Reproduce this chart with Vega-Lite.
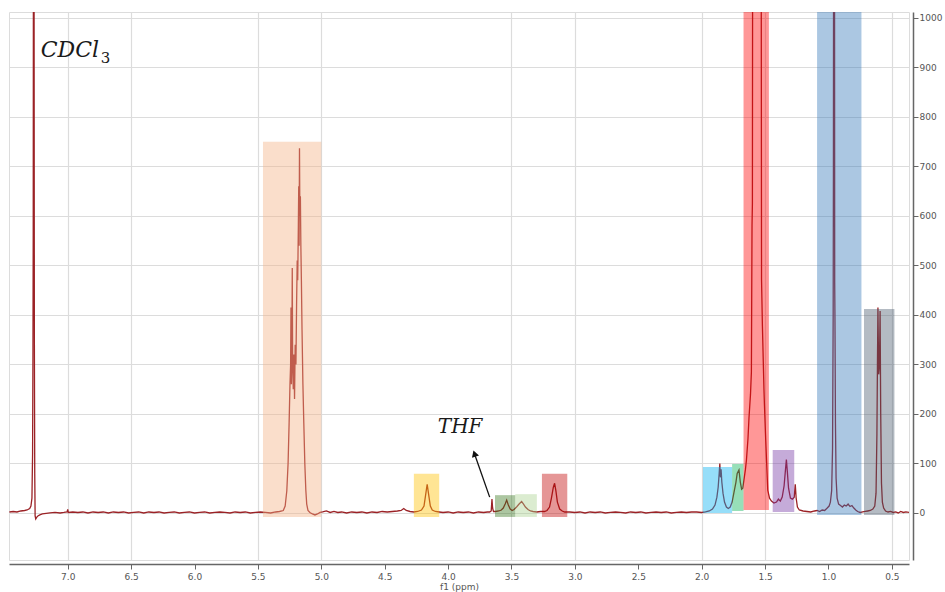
{
  "$schema": "https://vega.github.io/schema/vega-lite/v6.json",
  "width": 900,
  "height": 548,
  "autosize": {"type": "none"},
  "padding": {"left": 9, "top": 12, "right": 36, "bottom": 32},
  "background": "white",
  "config": {"view": {"stroke": "#dcdcdc", "strokeWidth": 1}, "font": "DejaVu Sans"},
  "datasets": {
    "spectrum": [
      {"ppm": 7.46, "i": 2}, {"ppm": 7.43, "i": 3}, {"ppm": 7.40, "i": 2}, {"ppm": 7.37, "i": 4}, {"ppm": 7.34, "i": 5},
      {"ppm": 7.32, "i": 6}, {"ppm": 7.30, "i": 9}, {"ppm": 7.29, "i": 14}, {"ppm": 7.282, "i": 30}, {"ppm": 7.277, "i": 120},
      {"ppm": 7.274, "i": 330}, {"ppm": 7.272, "i": 560}, {"ppm": 7.270, "i": 1300}, {"ppm": 7.266, "i": 1300}, {"ppm": 7.263, "i": 360},
      {"ppm": 7.260, "i": 80}, {"ppm": 7.257, "i": -6}, {"ppm": 7.252, "i": -12}, {"ppm": 7.245, "i": -9}, {"ppm": 7.235, "i": -6},
      {"ppm": 7.22, "i": -4}, {"ppm": 7.20, "i": -2}, {"ppm": 7.17, "i": -1}, {"ppm": 7.14, "i": 0}, {"ppm": 7.10, "i": 1},
      {"ppm": 7.06, "i": 0}, {"ppm": 7.03, "i": 1}, {"ppm": 7.005, "i": 2}, {"ppm": 7.0, "i": 7}, {"ppm": 6.995, "i": 1},
      {"ppm": 6.96, "i": 2}, {"ppm": 6.92, "i": 1}, {"ppm": 6.88, "i": 2}, {"ppm": 6.84, "i": 0}, {"ppm": 6.80, "i": 2},
      {"ppm": 6.76, "i": 1}, {"ppm": 6.72, "i": 2}, {"ppm": 6.68, "i": 0}, {"ppm": 6.64, "i": 2}, {"ppm": 6.60, "i": 1},
      {"ppm": 6.56, "i": 2}, {"ppm": 6.52, "i": 0}, {"ppm": 6.48, "i": 1}, {"ppm": 6.44, "i": 2}, {"ppm": 6.40, "i": 0},
      {"ppm": 6.36, "i": 2}, {"ppm": 6.32, "i": 1}, {"ppm": 6.28, "i": 2}, {"ppm": 6.24, "i": 0}, {"ppm": 6.20, "i": 1},
      {"ppm": 6.16, "i": 2}, {"ppm": 6.12, "i": 0}, {"ppm": 6.08, "i": 1}, {"ppm": 6.04, "i": 2}, {"ppm": 6.00, "i": 0},
      {"ppm": 5.96, "i": 1}, {"ppm": 5.92, "i": 2}, {"ppm": 5.88, "i": 0}, {"ppm": 5.84, "i": 1}, {"ppm": 5.80, "i": 2},
      {"ppm": 5.76, "i": 1}, {"ppm": 5.72, "i": 0}, {"ppm": 5.68, "i": 2}, {"ppm": 5.64, "i": 1}, {"ppm": 5.60, "i": 2},
      {"ppm": 5.56, "i": 0}, {"ppm": 5.52, "i": 1}, {"ppm": 5.48, "i": 2}, {"ppm": 5.44, "i": 1}, {"ppm": 5.40, "i": 0},
      {"ppm": 5.36, "i": 2}, {"ppm": 5.33, "i": 3}, {"ppm": 5.31, "i": 4},
      {"ppm": 5.30, "i": 5}, {"ppm": 5.285, "i": 14}, {"ppm": 5.272, "i": 45}, {"ppm": 5.262, "i": 100}, {"ppm": 5.254, "i": 180},
      {"ppm": 5.247, "i": 260}, {"ppm": 5.242, "i": 300}, {"ppm": 5.239, "i": 415}, {"ppm": 5.236, "i": 260}, {"ppm": 5.232, "i": 330},
      {"ppm": 5.229, "i": 495}, {"ppm": 5.226, "i": 300}, {"ppm": 5.221, "i": 250}, {"ppm": 5.216, "i": 320}, {"ppm": 5.211, "i": 230},
      {"ppm": 5.206, "i": 340}, {"ppm": 5.200, "i": 300}, {"ppm": 5.195, "i": 420}, {"ppm": 5.190, "i": 510}, {"ppm": 5.186, "i": 470},
      {"ppm": 5.181, "i": 580}, {"ppm": 5.178, "i": 660}, {"ppm": 5.175, "i": 540}, {"ppm": 5.172, "i": 737}, {"ppm": 5.169, "i": 600},
      {"ppm": 5.165, "i": 640}, {"ppm": 5.161, "i": 537}, {"ppm": 5.157, "i": 470}, {"ppm": 5.152, "i": 370}, {"ppm": 5.145, "i": 260},
      {"ppm": 5.138, "i": 182}, {"ppm": 5.130, "i": 100}, {"ppm": 5.122, "i": 46}, {"ppm": 5.115, "i": 18}, {"ppm": 5.105, "i": 5},
      {"ppm": 5.09, "i": 1}, {"ppm": 5.07, "i": -2}, {"ppm": 5.05, "i": -4}, {"ppm": 5.03, "i": -2}, {"ppm": 5.01, "i": 1},
      {"ppm": 4.99, "i": 2}, {"ppm": 4.96, "i": 4}, {"ppm": 4.93, "i": 1}, {"ppm": 4.90, "i": 3}, {"ppm": 4.87, "i": 1},
      {"ppm": 4.84, "i": 2}, {"ppm": 4.80, "i": 0}, {"ppm": 4.76, "i": 2}, {"ppm": 4.72, "i": 1}, {"ppm": 4.68, "i": 2},
      {"ppm": 4.64, "i": 0}, {"ppm": 4.60, "i": 2}, {"ppm": 4.56, "i": 1}, {"ppm": 4.52, "i": 3}, {"ppm": 4.48, "i": 2},
      {"ppm": 4.44, "i": 3}, {"ppm": 4.40, "i": 4}, {"ppm": 4.37, "i": 5}, {"ppm": 4.35, "i": 9}, {"ppm": 4.33, "i": 5},
      {"ppm": 4.30, "i": 3}, {"ppm": 4.27, "i": 2}, {"ppm": 4.24, "i": 3}, {"ppm": 4.21, "i": 6}, {"ppm": 4.19, "i": 14},
      {"ppm": 4.178, "i": 35}, {"ppm": 4.165, "i": 58}, {"ppm": 4.155, "i": 40}, {"ppm": 4.14, "i": 14}, {"ppm": 4.125, "i": 6},
      {"ppm": 4.10, "i": 3}, {"ppm": 4.07, "i": 2}, {"ppm": 4.04, "i": 1}, {"ppm": 4.00, "i": 2}, {"ppm": 3.96, "i": 0},
      {"ppm": 3.92, "i": 2}, {"ppm": 3.88, "i": 1}, {"ppm": 3.84, "i": 2}, {"ppm": 3.80, "i": 0}, {"ppm": 3.76, "i": 2},
      {"ppm": 3.72, "i": 1}, {"ppm": 3.69, "i": 2}, {"ppm": 3.672, "i": 2}, {"ppm": 3.66, "i": 4}, {"ppm": 3.654, "i": 28},
      {"ppm": 3.649, "i": 10}, {"ppm": 3.642, "i": 3}, {"ppm": 3.625, "i": 3}, {"ppm": 3.60, "i": 4}, {"ppm": 3.58, "i": 6},
      {"ppm": 3.565, "i": 10}, {"ppm": 3.55, "i": 18}, {"ppm": 3.538, "i": 26}, {"ppm": 3.525, "i": 16}, {"ppm": 3.51, "i": 8},
      {"ppm": 3.495, "i": 5}, {"ppm": 3.48, "i": 7}, {"ppm": 3.46, "i": 12}, {"ppm": 3.44, "i": 18}, {"ppm": 3.42, "i": 23},
      {"ppm": 3.405, "i": 18}, {"ppm": 3.39, "i": 12}, {"ppm": 3.37, "i": 7}, {"ppm": 3.35, "i": 4}, {"ppm": 3.33, "i": 3},
      {"ppm": 3.30, "i": 2}, {"ppm": 3.27, "i": 3}, {"ppm": 3.24, "i": 3}, {"ppm": 3.22, "i": 5}, {"ppm": 3.20, "i": 12},
      {"ppm": 3.185, "i": 30}, {"ppm": 3.17, "i": 52}, {"ppm": 3.16, "i": 60}, {"ppm": 3.15, "i": 45}, {"ppm": 3.138, "i": 22},
      {"ppm": 3.12, "i": 8}, {"ppm": 3.10, "i": 4}, {"ppm": 3.08, "i": 2}, {"ppm": 3.04, "i": 2}, {"ppm": 3.00, "i": 1},
      {"ppm": 2.96, "i": 2}, {"ppm": 2.92, "i": 0}, {"ppm": 2.88, "i": 2}, {"ppm": 2.84, "i": 1}, {"ppm": 2.80, "i": 2},
      {"ppm": 2.76, "i": 0}, {"ppm": 2.72, "i": 1}, {"ppm": 2.68, "i": 2}, {"ppm": 2.64, "i": 1}, {"ppm": 2.60, "i": 0},
      {"ppm": 2.56, "i": 2}, {"ppm": 2.52, "i": 1}, {"ppm": 2.48, "i": 2}, {"ppm": 2.44, "i": 0}, {"ppm": 2.40, "i": 1},
      {"ppm": 2.36, "i": 2}, {"ppm": 2.32, "i": 1}, {"ppm": 2.28, "i": 2}, {"ppm": 2.24, "i": 0}, {"ppm": 2.20, "i": 1},
      {"ppm": 2.16, "i": 2}, {"ppm": 2.12, "i": 1}, {"ppm": 2.08, "i": 2}, {"ppm": 2.04, "i": 2}, {"ppm": 2.00, "i": 1},
      {"ppm": 1.97, "i": 2}, {"ppm": 1.94, "i": 4}, {"ppm": 1.915, "i": 8}, {"ppm": 1.895, "i": 16}, {"ppm": 1.88, "i": 32},
      {"ppm": 1.87, "i": 52}, {"ppm": 1.862, "i": 80}, {"ppm": 1.857, "i": 100}, {"ppm": 1.852, "i": 72}, {"ppm": 1.847, "i": 88},
      {"ppm": 1.841, "i": 62}, {"ppm": 1.832, "i": 40}, {"ppm": 1.82, "i": 22}, {"ppm": 1.805, "i": 12}, {"ppm": 1.79, "i": 9},
      {"ppm": 1.775, "i": 12}, {"ppm": 1.76, "i": 22}, {"ppm": 1.745, "i": 42}, {"ppm": 1.73, "i": 62}, {"ppm": 1.72, "i": 80},
      {"ppm": 1.706, "i": 87}, {"ppm": 1.695, "i": 62}, {"ppm": 1.685, "i": 48}, {"ppm": 1.676, "i": 50}, {"ppm": 1.665, "i": 70},
      {"ppm": 1.655, "i": 88}, {"ppm": 1.647, "i": 107}, {"ppm": 1.635, "i": 150}, {"ppm": 1.627, "i": 192}, {"ppm": 1.615, "i": 240},
      {"ppm": 1.608, "i": 285}, {"ppm": 1.603, "i": 580}, {"ppm": 1.600, "i": 625}, {"ppm": 1.597, "i": 1500}, {"ppm": 1.59, "i": 1600},
      {"ppm": 1.563, "i": 1150}, {"ppm": 1.536, "i": 1600}, {"ppm": 1.532, "i": 1500}, {"ppm": 1.528, "i": 471}, {"ppm": 1.521, "i": 377},
      {"ppm": 1.512, "i": 282}, {"ppm": 1.509, "i": 250}, {"ppm": 1.505, "i": 218}, {"ppm": 1.495, "i": 147}, {"ppm": 1.479, "i": 46},
      {"ppm": 1.465, "i": 30}, {"ppm": 1.45, "i": 24}, {"ppm": 1.43, "i": 20}, {"ppm": 1.41, "i": 22}, {"ppm": 1.395, "i": 28},
      {"ppm": 1.38, "i": 24}, {"ppm": 1.365, "i": 32}, {"ppm": 1.35, "i": 55}, {"ppm": 1.34, "i": 85}, {"ppm": 1.332, "i": 108},
      {"ppm": 1.325, "i": 85}, {"ppm": 1.315, "i": 50}, {"ppm": 1.30, "i": 30}, {"ppm": 1.285, "i": 28}, {"ppm": 1.27, "i": 32},
      {"ppm": 1.262, "i": 58}, {"ppm": 1.255, "i": 30}, {"ppm": 1.245, "i": 12}, {"ppm": 1.23, "i": 6}, {"ppm": 1.20, "i": 4},
      {"ppm": 1.17, "i": 3}, {"ppm": 1.14, "i": 2}, {"ppm": 1.11, "i": 4}, {"ppm": 1.09, "i": 5}, {"ppm": 1.07, "i": 3},
      {"ppm": 1.05, "i": 6}, {"ppm": 1.03, "i": 5}, {"ppm": 1.01, "i": 10}, {"ppm": 0.995, "i": 14}, {"ppm": 0.985, "i": 22},
      {"ppm": 0.975, "i": 45}, {"ppm": 0.968, "i": 130}, {"ppm": 0.963, "i": 400}, {"ppm": 0.961, "i": 700}, {"ppm": 0.959, "i": 1500},
      {"ppm": 0.953, "i": 1500}, {"ppm": 0.951, "i": 465}, {"ppm": 0.949, "i": 397}, {"ppm": 0.945, "i": 180}, {"ppm": 0.94, "i": 70},
      {"ppm": 0.932, "i": 30}, {"ppm": 0.92, "i": 18}, {"ppm": 0.905, "i": 15}, {"ppm": 0.89, "i": 12}, {"ppm": 0.875, "i": 16},
      {"ppm": 0.86, "i": 14}, {"ppm": 0.845, "i": 18}, {"ppm": 0.83, "i": 13}, {"ppm": 0.815, "i": 15}, {"ppm": 0.80, "i": 10},
      {"ppm": 0.785, "i": 6}, {"ppm": 0.77, "i": 3}, {"ppm": 0.75, "i": 1}, {"ppm": 0.73, "i": 2}, {"ppm": 0.71, "i": 3},
      {"ppm": 0.69, "i": 4}, {"ppm": 0.67, "i": 5}, {"ppm": 0.65, "i": 8}, {"ppm": 0.635, "i": 14}, {"ppm": 0.625, "i": 40},
      {"ppm": 0.618, "i": 160}, {"ppm": 0.614, "i": 296}, {"ppm": 0.610, "i": 415}, {"ppm": 0.604, "i": 280}, {"ppm": 0.598, "i": 300},
      {"ppm": 0.593, "i": 408}, {"ppm": 0.588, "i": 200}, {"ppm": 0.582, "i": 60}, {"ppm": 0.575, "i": 22}, {"ppm": 0.565, "i": 10},
      {"ppm": 0.55, "i": 4}, {"ppm": 0.53, "i": 2}, {"ppm": 0.51, "i": 3}, {"ppm": 0.49, "i": 1}, {"ppm": 0.47, "i": 2},
      {"ppm": 0.45, "i": 0}, {"ppm": 0.43, "i": 3}, {"ppm": 0.41, "i": 1}, {"ppm": 0.39, "i": 2}, {"ppm": 0.365, "i": 1}
    ],
    "boxes": [
      {"g": "a", "x1": 5.46, "x2": 5.00, "y1": -8, "y2": 750},
      {"g": "b", "x1": 4.27, "x2": 4.07, "y1": -8, "y2": 79},
      {"g": "c", "x1": 3.63, "x2": 3.47, "y1": -8, "y2": 36},
      {"g": "d", "x1": 3.47, "x2": 3.30, "y1": -8, "y2": 38},
      {"g": "e", "x1": 3.26, "x2": 3.06, "y1": -8, "y2": 79},
      {"g": "f", "x1": 1.99, "x2": 1.76, "y1": 0, "y2": 93},
      {"g": "g", "x1": 1.76, "x2": 1.67, "y1": 4, "y2": 99},
      {"g": "h", "x1": 1.67, "x2": 1.47, "y1": 6, "y2": 1100},
      {"g": "i", "x1": 1.44, "x2": 1.27, "y1": 2, "y2": 127},
      {"g": "j", "x1": 1.09, "x2": 0.74, "y1": -4, "y2": 1100},
      {"g": "k", "x1": 0.72, "x2": 0.48, "y1": -4, "y2": 412}
    ]
  },
  "layer": [
    {
      "data": {"name": "spectrum"},
      "mark": {"type": "line", "color": "#9b2226", "strokeWidth": 1.3, "clip": true},
      "encoding": {
        "x": {
          "field": "ppm", "type": "quantitative",
          "scale": {"domain": [0.365, 7.463], "reverse": true, "nice": false, "zero": false},
          "axis": {
            "orient": "bottom", "offset": 4,
            "values": [7.25, 7.0, 6.75, 6.5, 6.25, 6.0, 5.75, 5.5, 5.25, 5.0, 4.75, 4.5, 4.25, 4.0, 3.75, 3.5, 3.25, 3.0, 2.75, 2.5, 2.25, 2.0, 1.75, 1.5, 1.25, 1.0, 0.75, 0.5],
            "title": "f1 (ppm)", "titleFontSize": 9, "titleFontWeight": "normal", "titleColor": "#555", "titlePadding": 1, "titleFont": "DejaVu Sans",
            "labelExpr": "datum.value % 0.5 == 0 ? format(datum.value, '.1f') : ''",
            "labelFontSize": 9, "labelColor": "#555", "labelPadding": 3, "labelOverlap": false, "labelBound": false, "labelFlush": false,
            "domainColor": "#666", "domainWidth": 1.5, "tickColor": "#666",
            "tickSize": {"condition": {"test": "datum.value % 0.5 == 0", "value": 5}, "value": 3},
            "grid": true, "gridColor": "#dcdcdc", "gridWidth": 1.2,
            "gridOpacity": {"condition": {"test": "indexof([7, 6.5, 5.5, 5, 3.5, 3, 2, 1.5, 0.5], datum.value) >= 0", "value": 1}, "value": 0}
          }
        },
        "y": {
          "field": "i", "type": "quantitative",
          "scale": {"domain": [-95, 1012], "nice": false, "zero": false},
          "axis": {
            "orient": "right", "offset": 4, "title": null,
            "values": [0, 50, 100, 150, 200, 250, 300, 350, 400, 450, 500, 550, 600, 650, 700, 750, 800, 850, 900, 950, 1000],
            "labelExpr": "datum.value % 100 == 0 ? format(datum.value, 'd') : ''",
            "labelFontSize": 9, "labelColor": "#555", "labelPadding": 1, "labelOverlap": false, "labelBound": false, "labelFlush": false,
            "domainColor": "#666", "domainWidth": 1.5, "tickColor": "#666",
            "tickSize": {"condition": {"test": "datum.value % 100 == 0", "value": 5}, "value": 3},
            "grid": true, "gridColor": "#dcdcdc", "gridWidth": 1.2,
            "gridOpacity": {"condition": {"test": "datum.value % 100 == 0", "value": 1}, "value": 0}
          }
        }
      }
    },
    {
      "data": {"name": "boxes"},
      "mark": {"type": "rect", "clip": true},
      "encoding": {
        "x": {"field": "x1", "type": "quantitative"},
        "x2": {"field": "x2"},
        "y": {"field": "y1", "type": "quantitative"},
        "y2": {"field": "y2"},
        "color": {
          "field": "g", "type": "nominal", "legend": null,
          "scale": {"domain": ["a", "b", "c", "d", "e", "f", "g", "h", "i", "j", "k"],
                    "range": ["#f4b183", "#ffc000", "#38761d", "#a9d18e", "#c00000", "#00b0f0", "#00b050", "#ff0000", "#7030a0", "#2e75b6", "#44546a"]}
        },
        "opacity": {
          "field": "g", "type": "nominal", "legend": null,
          "scale": {"domain": ["a", "b", "c", "d", "e", "f", "g", "h", "i", "j", "k"],
                    "range": [0.42, 0.4, 0.75, 0.65, 0.55, 0.5, 0.7, 0.5, 0.48, 0.55, 0.65]}
        }
      }
    },
    {
      "data": {"values": [{"t": "CDCl", "ppm": 7.213, "v": 921}]},
      "mark": {"type": "text", "font": "DejaVu Serif", "fontStyle": "italic", "fontSize": 22, "align": "left", "baseline": "alphabetic", "color": "#1a1a1a"},
      "encoding": {"x": {"field": "ppm", "type": "quantitative"}, "y": {"field": "v", "type": "quantitative"}, "text": {"field": "t"}}
    },
    {
      "data": {"values": [{"t": "3", "ppm": 6.74, "v": 909}]},
      "mark": {"type": "text", "font": "DejaVu Serif", "fontSize": 15, "align": "left", "baseline": "alphabetic", "color": "#1a1a1a"},
      "encoding": {"x": {"field": "ppm", "type": "quantitative"}, "y": {"field": "v", "type": "quantitative"}, "text": {"field": "t"}}
    },
    {
      "data": {"values": [{"t": "THF", "ppm": 3.905, "v": 162}]},
      "mark": {"type": "text", "font": "DejaVu Serif", "fontStyle": "italic", "fontSize": 20, "align": "center", "baseline": "alphabetic", "color": "#1a1a1a", "letterSpacing": 2},
      "encoding": {"x": {"field": "ppm", "type": "quantitative"}, "y": {"field": "v", "type": "quantitative"}, "text": {"field": "t"}}
    },
    {
      "data": {"values": [{"x1": 3.672, "y1": 32, "x2": 3.79, "y2": 118}]},
      "mark": {"type": "rule", "color": "#111", "strokeWidth": 1.3},
      "encoding": {"x": {"field": "x1", "type": "quantitative"}, "y": {"field": "y1", "type": "quantitative"}, "x2": {"field": "x2"}, "y2": {"field": "y2"}}
    },
    {
      "data": {"values": [{"x": 3.792, "y": 120}]},
      "mark": {"type": "point", "shape": "triangle-up", "filled": true, "color": "#111", "opacity": 1, "size": 55, "angle": 341},
      "encoding": {"x": {"field": "x", "type": "quantitative"}, "y": {"field": "y", "type": "quantitative"}}
    }
  ]
}
